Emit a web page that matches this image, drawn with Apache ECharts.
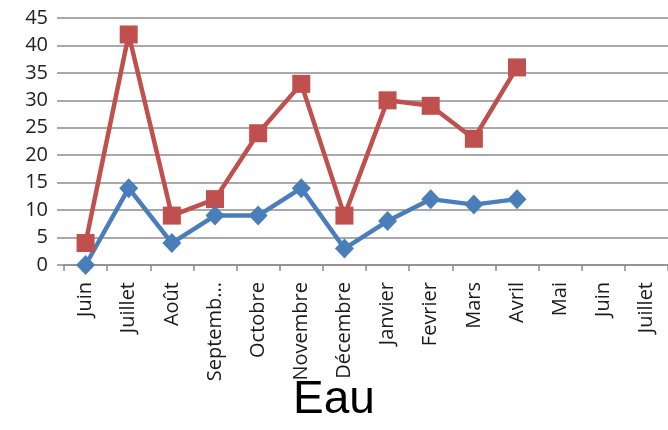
<!DOCTYPE html>
<html>
<head>
<meta charset="utf-8">
<title>Eau</title>
<script src="https://cdn.jsdelivr.net/npm/echarts@6/dist/echarts.min.js"></script>
<style>
html, body { margin: 0; padding: 0; background: #fff; }
#chart { width: 668px; height: 430px; }
</style>
</head>
<body>
<div id="chart"></div>
<script>
// mois (axe x)
var mois = ['Juin', 'Juillet', 'Août', 'Septemb...', 'Octobre', 'Novembre', 'Décembre',
            'Janvier', 'Fevrier', 'Mars', 'Avril', 'Mai', 'Juin', 'Juillet'];
// serie rouge (carres)
var serieRouge = [4, 42, 9, 12, 24, 33, 9, 30, 29, 23, 36];
// serie bleue (losanges)
var serieBleue = [0, 14, 4, 9, 9, 14, 3, 8, 12, 11, 12];

var chart = echarts.init(document.getElementById('chart'));

var option = {
    animation: false,
    title: {
        text: 'Eau',
        left: 'center',
        bottom: 2,
        textStyle: { fontFamily: 'Liberation Sans', fontSize: 46, fontWeight: 'normal', color: '#000' }
    },
    grid: { left: 64, right: -8, top: 18, bottom: 165 },
    xAxis: {
        type: 'category',
        data: mois,
        boundaryGap: true,
        axisLine: { lineStyle: { color: '#8c8c8c', width: 1.5 } },
        axisTick: { show: true, length: 6, lineStyle: { color: '#8c8c8c', width: 1.5 } },
        axisLabel: {
            rotate: 90,
            margin: 17,
            interval: 0,
            fontFamily: 'Open Sans',
            fontSize: 20,
            color: '#1a1a1a'
        }
    },
    yAxis: {
        type: 'value',
        min: 0,
        max: 45,
        interval: 5,
        axisLine: { show: false },
        axisTick: { show: true, length: 7, lineStyle: { color: '#8c8c8c', width: 1.5 } },
        axisLabel: { fontFamily: 'Open Sans', fontSize: 20, color: '#222', margin: 16 },
        splitLine: { lineStyle: { color: '#8c8c8c', width: 1.5 } }
    },
    series: [
        {
            type: 'line',
            data: serieRouge,
            symbol: 'rect',
            symbolSize: 18,
            lineStyle: { color: '#c0504d', width: 4.5 },
            itemStyle: { color: '#c0504d' }
        },
        {
            type: 'line',
            data: serieBleue,
            symbol: 'diamond',
            symbolSize: [19, 20],
            lineStyle: { color: '#4a7ebb', width: 4.5 },
            itemStyle: { color: '#4a7ebb' }
        }
    ]
};

chart.setOption(option);
</script>
</body>
</html>
